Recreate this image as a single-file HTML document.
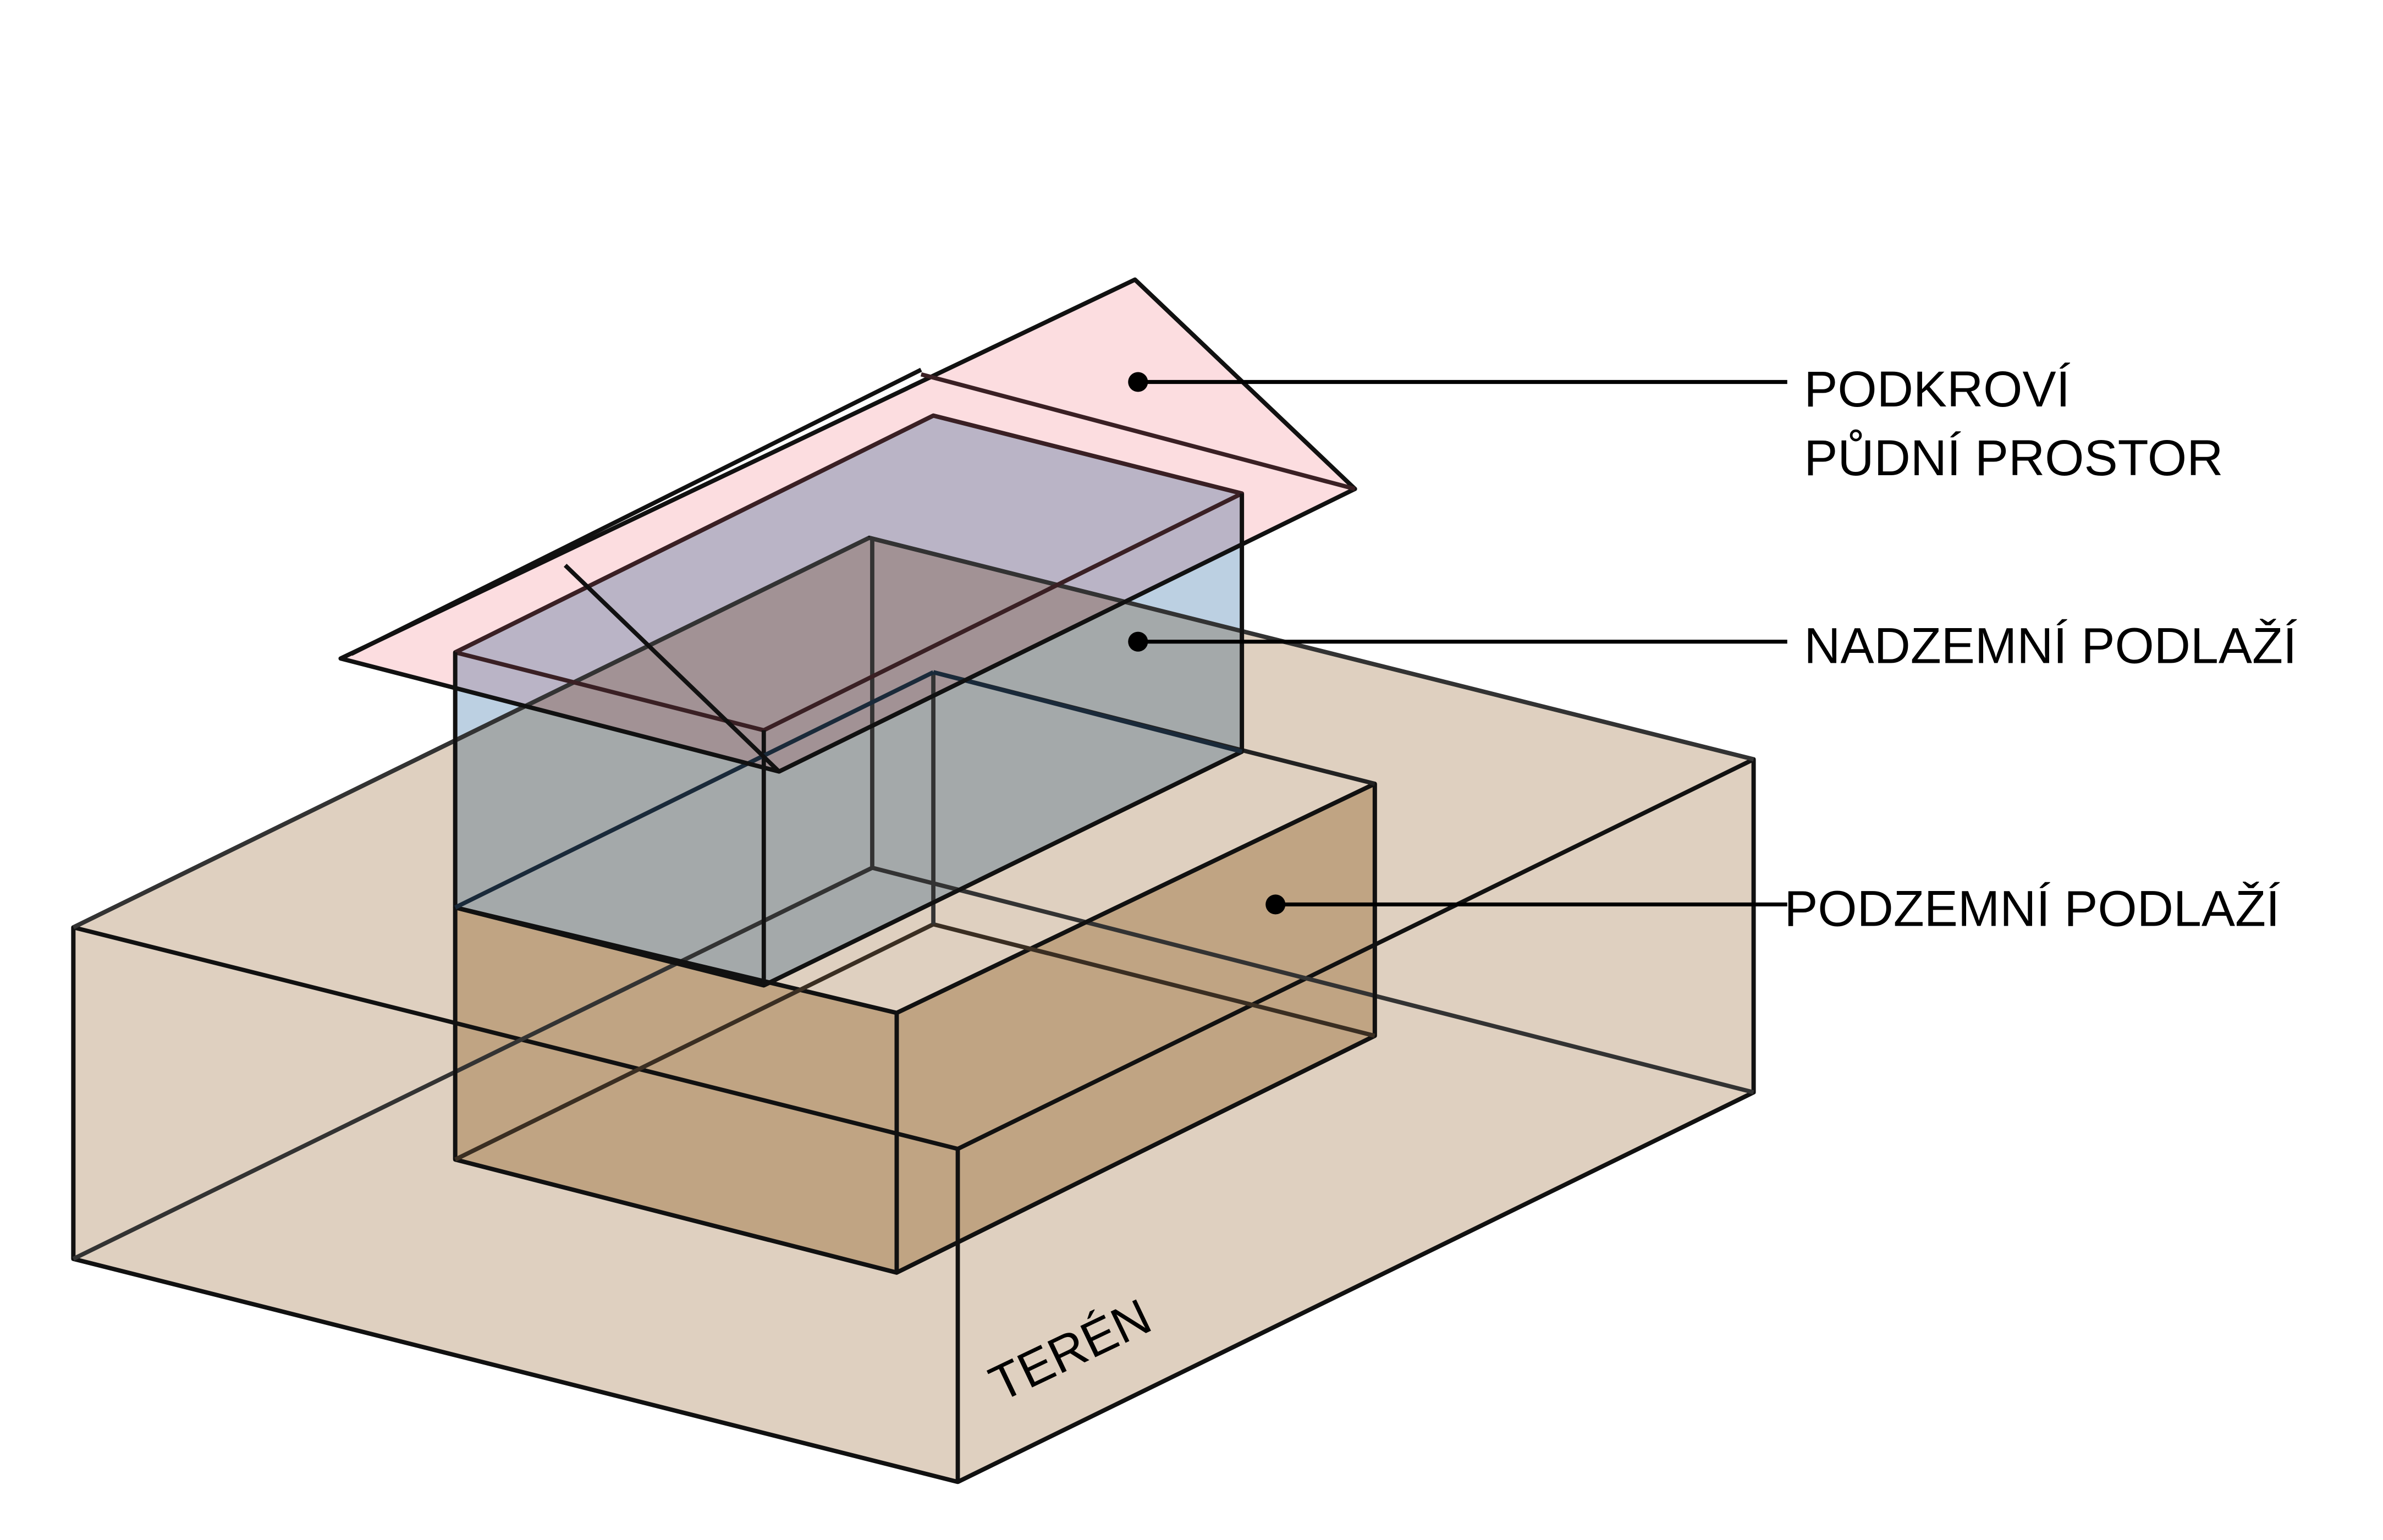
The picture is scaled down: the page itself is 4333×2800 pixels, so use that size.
<!DOCTYPE html>
<html><head><meta charset="utf-8"><style>html,body{margin:0;padding:0;background:#fff}svg{display:block}</style></head>
<body>
<svg width="4333" height="2800" viewBox="0 0 1560 1008" xmlns="http://www.w3.org/2000/svg">
<g stroke="#111" stroke-width="2.8" stroke-linejoin="round" fill="none">
<!-- terrain -->
<polygon points="48,607 569,352 1148,497 1148,715 627,970 48,824" fill="#dfd0c0"/>
<!-- basement side faces -->
<g style="mix-blend-mode:multiply">
<polygon points="298,594 587,663 587,833 298,759" fill="#dcc9ae"/>
<polygon points="587,663 900,513 900,678 587,833" fill="#dcc9ae"/>
</g>
<!-- upper box -->
<g style="mix-blend-mode:multiply">
<polygon points="298,427 611,272 813,323 813,492 500,645 298,594" fill="#bcd0e2"/>
</g>
<!-- roof -->
<g style="mix-blend-mode:multiply">
<polygon points="223,431 743,183 887,320 510,505" fill="#fcdde0"/>
</g>
<!-- terrain edges -->
<polyline points="48,607 627,752 1148,497"/>
<line x1="627" y1="752" x2="627" y2="970"/>
<line x1="48" y1="607" x2="48" y2="824"/>
<line x1="48" y1="824" x2="627" y2="970"/>
<line x1="627" y1="970" x2="1148" y2="715"/>
<line x1="1148" y1="497" x2="1148" y2="715"/>
<line x1="48" y1="607" x2="569" y2="352" stroke="#333"/>
<line x1="569" y1="352" x2="1148" y2="497" stroke="#333"/>
<line x1="571" y1="352" x2="571" y2="568" stroke="#333"/>
<line x1="48" y1="824" x2="571" y2="568" stroke="#333"/>
<line x1="571" y1="568" x2="1148" y2="715" stroke="#333"/>
<!-- basement edges -->
<polyline points="298,594 587,663 900,513"/>
<line x1="298" y1="594" x2="298" y2="759"/>
<line x1="587" y1="663" x2="587" y2="833"/>
<line x1="900" y1="513" x2="900" y2="678"/>
<line x1="298" y1="759" x2="587" y2="833"/>
<line x1="587" y1="833" x2="900" y2="678"/>
<line x1="298" y1="759" x2="611" y2="605" stroke="#3a2e22"/>
<line x1="611" y1="605" x2="900" y2="678" stroke="#3a2e22"/>
<line x1="611" y1="440" x2="611" y2="605" stroke="#333"/>
<line x1="611" y1="440" x2="900" y2="513" stroke="#222"/>
<!-- upper box edges -->
<polyline points="298,427 500,478 813,323 611,272 298,427" stroke="#3a2024"/>
<line x1="298" y1="427" x2="298" y2="594"/>
<line x1="500" y1="478" x2="500" y2="645"/>
<line x1="813" y1="323" x2="813" y2="492"/>
<line x1="298" y1="594" x2="500" y2="645"/>
<line x1="500" y1="645" x2="813" y2="492"/>
<line x1="298" y1="594" x2="611" y2="440" stroke="#1a2a3a"/>
<line x1="611" y1="440" x2="813" y2="492" stroke="#1a2a3a"/>
<!-- roof edges -->
<polygon points="223,431 743,183 887,320 510,505"/>
<line x1="230" y1="428" x2="603" y2="242"/>
<line x1="603" y1="245" x2="887" y2="320" stroke="#3a2024"/>
<line x1="370" y1="370" x2="510" y2="505"/>
</g>
<!-- leaders -->
<g stroke="#000" stroke-width="2.6">
<line x1="745" y1="250" x2="1170" y2="250"/>
<line x1="745" y1="420" x2="1170" y2="420"/>
<line x1="835" y1="592" x2="1170" y2="592"/>
</g>
<circle cx="745" cy="250" r="6.5" fill="#000"/>
<circle cx="745" cy="420" r="6.5" fill="#000"/>
<circle cx="835" cy="592" r="6.5" fill="#000"/>
<g font-family="Liberation Sans, sans-serif" font-size="33" fill="#000">
<text x="1181" y="266">PODKROVÍ</text>
<text x="1181" y="311">PŮDNÍ PROSTOR</text>
<text x="1181" y="434">NADZEMNÍ PODLAŽÍ</text>
<text x="1168" y="606">PODZEMNÍ PODLAŽÍ</text>
<text x="0" y="0" transform="translate(655,918) rotate(-25.5)">TERÉN</text>
</g>
</svg>
</body></html>
